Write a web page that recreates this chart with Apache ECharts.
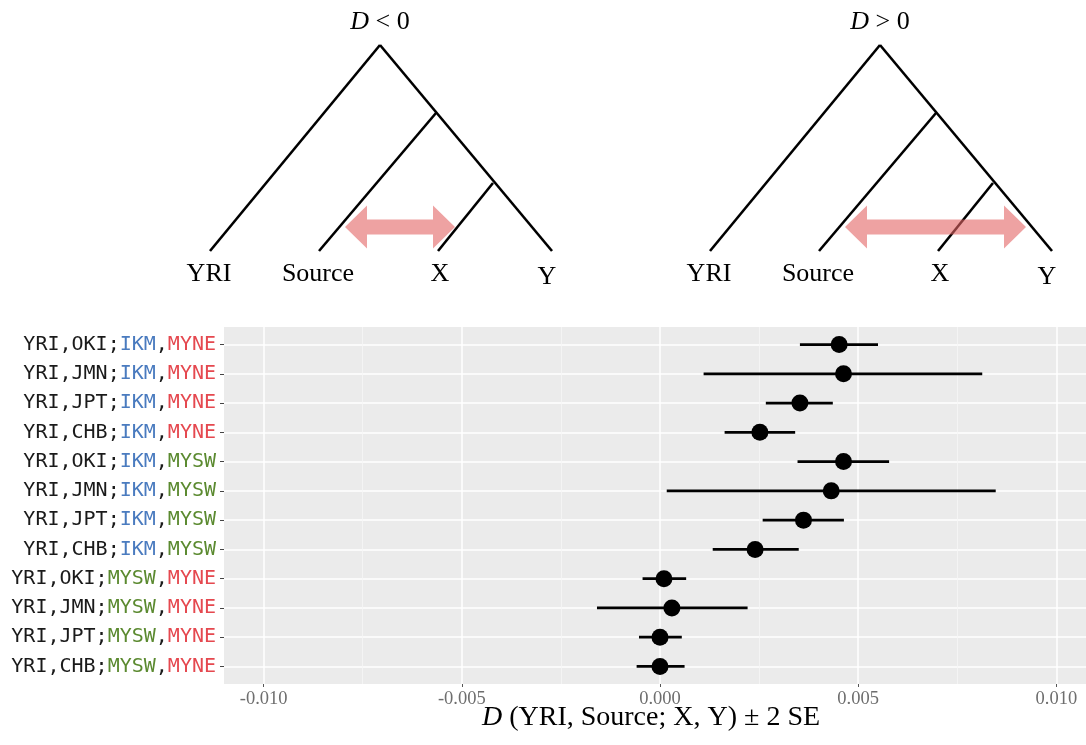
<!DOCTYPE html>
<html>
<head>
<meta charset="utf-8">
<script src="https://cdn.jsdelivr.net/npm/echarts@6/dist/echarts.min.js"></script>
<style>
  html, body { margin: 0; padding: 0; background: #fff; }
  #chart { width: 1086px; height: 745px; }
</style>
</head>
<body>
<div id="chart"></div>
<script>
// ---- Data (top row first) ----
var categories = [
  'YRI,OKI;IKM,MYNE', 'YRI,JMN;IKM,MYNE', 'YRI,JPT;IKM,MYNE', 'YRI,CHB;IKM,MYNE',
  'YRI,OKI;IKM,MYSW', 'YRI,JMN;IKM,MYSW', 'YRI,JPT;IKM,MYSW', 'YRI,CHB;IKM,MYSW',
  'YRI,OKI;MYSW,MYNE', 'YRI,JMN;MYSW,MYNE', 'YRI,JPT;MYSW,MYNE', 'YRI,CHB;MYSW,MYNE'
];
var dValues = [0.00452, 0.00463, 0.00353, 0.00252, 0.00463, 0.00432, 0.00362, 0.00240, 0.00010, 0.00030, 0.00000, 0.00000];
var lowerCI = [0.00353, 0.00110, 0.00267, 0.00163, 0.00347, 0.00017, 0.00259, 0.00133, -0.00044, -0.00159, -0.00053, -0.00059];
var upperCI = [0.00550, 0.00813, 0.00436, 0.00341, 0.00578, 0.00847, 0.00464, 0.00350, 0.00066, 0.00221, 0.00055, 0.00062];
var xMajorTicks = [-0.010, -0.005, 0.000, 0.005, 0.010];
var xMinorTicks = [-0.0075, -0.0025, 0.0025, 0.0075];
var xTickLabels = ['-0.010', '-0.005', '0.000', '0.005', '0.010'];
var popColors = { IKM: '#4a7bbf', MYNE: '#e5484f', MYSW: '#5b8a30' };

var rowIdx = categories.map(function (c, i) { return i; });

function labelRich(i) {
  var parts = categories[i].split(';');
  var pair = parts[1].split(',');
  var key = function (p) { return p === 'IKM' ? 'b' : (p === 'MYNE' ? 'r' : 'g'); };
  return '{k|' + parts[0] + ';}{' + key(pair[0]) + '|' + pair[0] + '}{k|,}{' + key(pair[1]) + '|' + pair[1] + '}';
}

var mono = { fontFamily: 'DejaVu Sans Mono', fontSize: 20 };
var serif = 'Liberation Serif';

// ---- Tree diagrams (schematic) ----
function tree(ox, arrowFrom, arrowTo, title) {
  var els = [];
  var lines = [
    [[ox + 0, 45], [ox - 170, 251]],   // root -> YRI
    [[ox + 0, 45], [ox + 172, 251]],   // root -> Y
    [[ox + 56, 113], [ox - 61, 251]],  // node2 -> Source
    [[ox + 113, 183], [ox + 58, 251]]  // node3 -> X
  ];
  lines.forEach(function (l) {
    els.push({ type: 'line', shape: { x1: l[0][0], y1: l[0][1], x2: l[1][0], y2: l[1][1] },
      style: { stroke: '#000', lineWidth: 2.6 }, z: 10 });
  });
  var cy = 227, sh = 7.5, hh = 21.5, hl = 22;
  els.push({ type: 'polygon', z: 20,
    shape: { points: [
      [arrowFrom, cy], [arrowFrom + hl, cy - hh], [arrowFrom + hl, cy - sh],
      [arrowTo - hl, cy - sh], [arrowTo - hl, cy - hh], [arrowTo, cy],
      [arrowTo - hl, cy + hh], [arrowTo - hl, cy + sh], [arrowFrom + hl, cy + sh], [arrowFrom + hl, cy + hh]
    ] },
    style: { fill: 'rgba(226,100,100,0.6)' } });
  els.push({ type: 'text', x: ox, y: 22, z: 10,
    style: { text: '{i|D} ' + title, rich: { i: { fontStyle: 'italic', fontFamily: serif, fontSize: 26 } },
      fontFamily: serif, fontSize: 26, fill: '#000', align: 'center', verticalAlign: 'middle' } });
  var leafs = [['YRI', ox - 171, 274], ['Source', ox - 62, 274], ['X', ox + 60, 274], ['Y', ox + 167, 277]];
  leafs.forEach(function (lf) {
    els.push({ type: 'text', x: lf[1], y: lf[2], z: 10,
      style: { text: lf[0], fontFamily: serif, fontSize: 26, fill: '#000', align: 'center', verticalAlign: 'middle' } });
  });
  return els;
}

var graphics = [].concat(
  tree(380, 345, 455, '< 0'),
  tree(880, 845, 1026, '> 0'),
  [{ type: 'text', x: 651, y: 718, z: 10,
     style: { text: '{i|D} (YRI, Source; X, Y) ± 2 SE',
       rich: { i: { fontStyle: 'italic', fontFamily: serif, fontSize: 28 } },
       fontFamily: serif, fontSize: 28, fill: '#000', align: 'center', verticalAlign: 'middle' } }]
);

var chart = echarts.init(document.getElementById('chart'));
chart.setOption({
  backgroundColor: '#fff',
  animation: false,
  graphic: graphics,
  grid: { left: 224, top: 327, width: 872, height: 357, show: true, backgroundColor: '#ebebeb',
          borderWidth: 0, outerBoundsMode: 'none', containLabel: false },
  xAxis: [{
    type: 'value', min: -0.011, max: 0.011, gridIndex: 0, position: 'bottom',
    axisLine: { show: false, onZero: false },
    axisTick: { show: true, length: 3, lineStyle: { color: '#555', width: 1 }, customValues: xMajorTicks },
    axisLabel: { customValues: xMajorTicks, margin: 6, color: '#6e6e6e', fontFamily: serif, fontSize: 18.5,
      formatter: function (v) { var i = xMajorTicks.indexOf(v); return i >= 0 ? xTickLabels[i] : ''; } },
    splitLine: { show: true, lineStyle: { color: '#ffffff', width: 1.5 } },
    z: 1
  }, {
    type: 'value', min: -0.011, max: 0.011, gridIndex: 0, position: 'bottom',
    axisLine: { show: false, onZero: false },
    axisTick: { show: false, customValues: xMinorTicks },
    axisLabel: { show: false, customValues: xMinorTicks },
    splitLine: { show: true, lineStyle: { color: '#f6f6f6', width: 0.8 } },
    z: 0
  }],
  yAxis: {
    type: 'value', inverse: true, min: -0.6, max: 11.6, position: 'left',
    axisLine: { show: false, onZero: false },
    axisTick: { show: true, length: 4, lineStyle: { color: '#444', width: 1 }, customValues: rowIdx },
    axisLabel: {
      customValues: rowIdx, margin: 8,
      formatter: function (v) { return labelRich(Math.round(v)); },
      rich: {
        k: Object.assign({ color: '#1a1a1a' }, mono),
        b: Object.assign({ color: popColors.IKM }, mono),
        r: Object.assign({ color: popColors.MYNE }, mono),
        g: Object.assign({ color: popColors.MYSW }, mono)
      }
    },
    splitLine: { show: true, lineStyle: { color: '#ffffff', width: 1.5 } }
  },
  series: [{
    type: 'custom',
    xAxisIndex: 0,
    data: rowIdx.map(function (i) { return [lowerCI[i], upperCI[i], i]; }),
    encode: { x: [0, 1], y: 2 },
    renderItem: function (params, api) {
      var p1 = api.coord([api.value(0), api.value(2)]);
      var p2 = api.coord([api.value(1), api.value(2)]);
      return { type: 'line', shape: { x1: p1[0], y1: p1[1], x2: p2[0], y2: p2[1] },
        style: { stroke: '#000', lineWidth: 2.7 } };
    },
    z: 3
  }, {
    type: 'scatter',
    xAxisIndex: 0,
    data: rowIdx.map(function (i) { return [dValues[i], i]; }),
    symbol: 'circle', symbolSize: 17,
    itemStyle: { color: '#000', opacity: 1 },
    z: 4
  }]
});
</script>
</body>
</html>
